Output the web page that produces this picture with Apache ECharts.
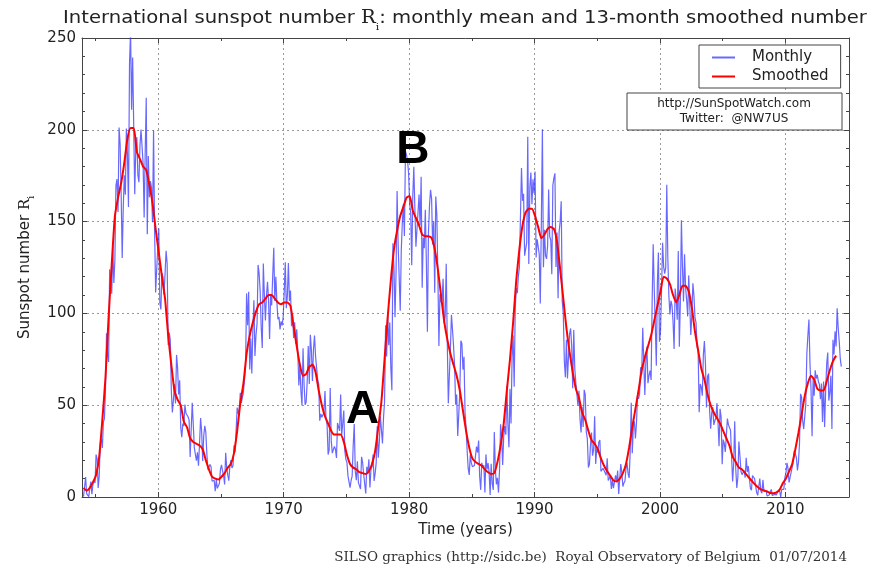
<!DOCTYPE html>
<html><head><meta charset="utf-8">
<script src="https://cdn.jsdelivr.net/npm/echarts@6/dist/echarts.min.js"></script>
<style>html,body{margin:0;padding:0;background:#fff}#c{width:885px;height:569px}</style>
</head><body><div id="c"></div>
<script>
// ---- data ----
const monthlyStart = 1954; // first month: Jan 1954
const monthly = [
0.2,0.5,10.9,1.8,0.8,0.2,4.8,8.4,1.5,7.0,9.2,7.6,
23.1,20.8,4.9,11.3,28.9,31.7,26.7,40.7,42.7,58.5,89.2,76.9,
73.6,124.0,118.4,110.7,136.6,116.6,129.1,169.6,173.2,155.3,201.3,192.1,
165.0,130.2,157.4,175.2,164.6,200.7,187.2,158.0,235.8,253.8,210.9,239.4,
202.5,164.9,190.7,196.0,175.3,171.5,191.4,200.2,201.2,181.5,152.3,187.6,
217.4,143.1,185.7,163.3,172.0,168.7,149.6,199.6,145.2,111.4,124.0,125.0,
146.3,106.0,102.2,122.0,119.6,110.2,121.7,134.1,127.2,82.8,89.6,85.6,
57.9,46.1,53.0,61.4,51.0,77.4,70.2,55.8,63.6,37.7,32.6,40.0,
38.7,50.3,45.6,46.4,43.7,42.0,21.8,21.8,51.3,39.5,26.9,23.2,
19.8,24.4,17.1,29.3,43.0,35.9,19.6,33.2,38.8,35.3,23.4,14.9,
15.3,17.7,16.5,8.6,9.5,9.1,3.1,9.3,4.7,6.1,7.4,15.1,
17.5,14.2,11.7,6.8,24.1,15.9,11.9,8.9,16.8,20.1,15.8,17.0,
28.2,24.4,25.3,48.7,45.3,47.7,56.7,51.2,50.2,57.2,57.2,70.4,
110.9,93.6,111.8,69.5,86.5,67.3,91.5,107.2,76.8,88.2,94.3,126.4,
121.8,111.9,92.2,81.2,127.2,110.3,96.1,109.3,117.2,107.7,86.0,109.8,
104.4,120.5,135.8,106.8,120.0,106.0,96.8,98.0,91.3,95.7,93.5,97.9,
111.5,127.8,102.9,109.5,127.5,106.8,112.5,93.0,99.5,86.6,95.2,83.5,
91.3,79.0,60.7,71.8,57.5,49.8,81.0,61.4,50.2,51.7,63.2,82.2,
61.5,88.4,80.1,63.2,80.5,88.0,76.5,76.8,64.0,61.3,41.6,45.3,
43.4,42.9,46.0,57.7,42.4,39.5,23.1,25.6,59.3,30.7,23.9,23.3,
27.6,26.0,21.3,40.3,39.5,36.0,55.8,33.6,40.2,47.1,25.0,20.5,
18.9,11.5,11.5,5.1,9.0,11.4,28.2,39.7,13.9,9.1,19.4,7.8,
8.1,4.3,21.9,18.8,12.4,12.2,1.9,16.4,13.5,20.6,5.2,15.3,
16.4,23.1,8.7,12.9,18.6,38.5,21.4,30.1,44.0,43.8,29.1,43.2,
51.9,93.6,76.5,99.7,82.7,95.1,70.4,58.1,138.2,125.1,97.9,122.7,
166.6,137.5,138.0,101.5,134.4,149.5,159.4,142.2,188.4,186.2,183.3,176.3,
159.6,155.0,126.2,164.1,179.9,157.3,136.3,135.4,155.0,164.7,147.9,174.4,
114.0,141.3,135.5,156.4,127.5,90.0,143.8,158.7,167.3,162.4,137.5,150.1,
111.2,163.6,153.8,122.0,82.2,110.4,106.1,107.6,118.8,94.7,98.1,127.0,
84.3,51.0,66.5,80.7,99.2,91.1,82.2,71.8,50.3,55.8,33.3,33.4,
57.0,85.1,83.5,69.4,76.4,46.1,37.4,25.5,15.7,12.0,22.8,18.7,
16.5,15.9,17.2,16.2,27.5,24.2,30.7,11.1,3.9,18.6,16.2,17.3,
2.5,23.2,15.1,18.5,13.7,1.1,18.1,7.4,3.8,35.4,15.2,6.8,
10.4,2.4,14.7,39.6,33.0,17.4,33.0,38.7,33.9,60.6,39.9,27.1,
59.0,40.0,76.2,88.0,60.1,101.8,113.8,111.0,120.1,125.1,125.1,179.2,
161.3,165.1,131.4,130.6,138.5,196.2,126.9,168.9,176.7,159.4,173.0,165.5,
177.3,130.5,140.3,140.3,132.2,105.4,149.4,200.3,125.2,145.5,131.4,129.7,
136.9,167.5,141.9,140.0,121.3,169.7,173.7,176.3,125.3,144.1,108.2,144.4,
150.0,161.1,106.7,99.8,73.8,65.2,85.7,64.5,63.9,88.7,91.8,82.6,
59.3,91.0,69.8,62.2,61.3,49.8,57.9,42.4,35.1,49.2,38.1,58.4,
55.8,35.5,31.7,16.1,17.8,28.0,35.1,22.5,25.7,44.0,18.0,26.2,
24.2,29.9,31.1,14.0,14.5,15.6,14.5,14.3,11.8,21.1,9.0,10.0,
11.5,4.4,9.2,4.8,5.5,11.8,8.2,14.4,1.6,0.9,17.9,13.3,
5.7,7.6,8.7,15.5,18.5,12.7,10.4,24.4,51.3,23.8,39.0,41.2,
31.9,40.3,54.8,53.4,56.3,70.7,66.6,92.2,92.9,55.5,74.0,81.9,
62.0,66.3,68.8,63.7,106.4,137.7,113.5,93.7,71.5,116.7,133.2,84.6,
90.1,112.9,138.5,125.5,121.6,124.9,170.1,130.5,109.7,99.4,106.8,104.4,
95.6,80.6,113.5,107.7,96.6,134.0,81.8,106.4,150.7,125.5,106.5,132.2,
114.1,107.4,98.4,120.7,120.8,88.3,99.6,116.4,109.6,97.5,95.0,81.6,
79.5,46.2,61.5,60.0,55.2,77.4,85.0,72.7,48.8,65.6,67.2,46.7,
37.2,46.0,48.9,39.3,41.5,43.2,51.1,40.9,27.7,48.0,43.5,17.9,
31.3,29.2,24.5,24.2,42.7,39.3,40.0,36.4,22.1,8.5,18.0,41.2,
15.3,4.9,10.6,30.2,22.3,13.9,12.2,12.9,14.4,10.5,21.4,13.6,
16.9,10.6,4.8,3.7,11.7,12.0,10.0,6.2,2.4,0.9,1.7,10.1,
3.3,2.1,9.3,2.9,3.2,3.4,0.5,0.5,1.1,2.9,4.1,0.8,
1.5,1.4,0.7,1.2,2.9,2.9,3.2,0.0,4.2,4.6,4.2,10.6,
13.1,18.6,15.4,7.9,8.8,13.5,16.1,19.6,25.2,23.5,21.6,14.5,
19.0,29.4,56.2,54.4,41.6,37.0,43.8,50.6,78.0,88.0,96.7,73.0,
58.3,33.1,64.2,55.2,69.0,64.5,66.5,63.0,61.4,53.3,61.8,40.8,
62.9,38.1,57.9,72.4,78.7,52.5,57.0,66.0,37.0,85.6,77.6,90.3,
82.0,102.8,92.2,84.7,75.2,71.0
];
const smoothedStart = 1954;   // first value: Jan 1954
const smoothedStepMonths = 3; // one value per quarter
const smoothed = [
5,3.5,5,8, 12,22,42,65, 98,127,153,163, 171,182,195,201,
201,188,184,180, 178,170,160,146, 133,120,108,88, 72,58,53,50,
41,38,32,30, 29,28,26,20, 15,11,10,9.5, 11,13,16,18,
24,36,51,62, 78,88,95,101, 105,106,108,110, 110,108,106,105,
106,106,104,93, 82,72,66,67, 71,72,68,58, 50,44,40,36,
34,34,34,30, 23,18,16,15, 13.5,13,12.5,14, 18,25,38,52,
75,98,118,135, 145,153,158,163, 164,156,152,148, 143,142,142,141,
135,124,110,96, 86,78,72,66, 58,47,36,27, 21,19,18,17,
15,13.5,12.5,13, 19,28,40,58, 75,95,118,135, 148,155,157,157,
153,147,141,143, 146,147,146,139, 124,108,92,79, 68,59,54,46,
42,36,31,29, 26,21,17,14, 11.5,9,8.5,10, 13,18,27,38,
48,58,69,76, 82,88,96,104, 112,120,119,116, 110,106,110,115,
115,112,103,90, 80,70,64,56, 50,46,43,40, 36,32,28,22,
19,16,15,13, 11,9,7,5.5, 4.2,3.6,3,2.2, 2,2.5,4,7.5,
10,14,18,26, 35,45,55,62, 66,64,59,58, 58,63,69,74,
77
];
const seriesNames = ['Monthly', 'Smoothed'];
const xMin = 1953.92, xMax = 2015.07;
const yearTicks = [1960, 1970, 1980, 1990, 2000, 2010];
const yearMinorTicks = [1955, 1965, 1975, 1985, 1995, 2005];
const yMin = 0, yMax = 250, yStep = 50;
const titleParts = ['International sunspot number ', 'R', 'i', ': monthly mean and 13-month smoothed number'];
const infoLines = ['http://SunSpotWatch.com', 'Twitter:  @NW7US'];
const footer = 'SILSO graphics (http://sidc.be)  Royal Observatory of Belgium  01/07/2014';
const marks = [{t: 'A', x: 1976.3, y: 47}, {t: 'B', x: 1980.3, y: 189}];

// ---- chart ----
const FONT = 'DejaVu Sans';
const monthlyPts = monthly.map((v, i) => [monthlyStart + (i + 0.5) / 12, v]);
const smoothedPts = smoothed.map((v, i) => [smoothedStart + (i * smoothedStepMonths + 0.5) / 12, v]);
const frame = {color: '#444', width: 1};
const gridDots = {type: [2, 3], color: '#9a9a9a', width: 1};

function xAx(pos, ticks, len, major) {
  const main = major && pos === 'bottom';
  return {
    type: 'value', position: pos, min: xMin, max: xMax,
    axisLine: {show: major, onZero: false, lineStyle: frame},
    axisTick: {show: true, inside: true, length: len, customValues: ticks, lineStyle: frame},
    axisLabel: main ? {show: true, customValues: ticks, fontSize: 15, color: '#222', fontFamily: FONT, margin: 6,
                       formatter: v => String(v)} : {show: false},
    splitLine: main ? {show: true, lineStyle: gridDots} : {show: false},
    name: main ? 'Time (years)' : '',
    nameLocation: 'middle', nameGap: 19,
    nameTextStyle: {fontSize: 15, color: '#222', fontFamily: FONT}
  };
}
function yAx(pos) {
  const left = pos === 'left';
  return {
    type: 'value', position: pos, min: yMin, max: yMax, interval: yStep,
    axisLine: {show: true, lineStyle: frame},
    axisTick: {show: true, inside: true, length: 5, lineStyle: frame},
    minorTick: {show: true, splitNumber: 5, length: 3, lineStyle: frame},
    axisLabel: left ? {fontSize: 15, color: '#222', fontFamily: FONT, margin: 6} : {show: false},
    splitLine: left ? {show: true, lineStyle: gridDots} : {show: false},
    name: left ? '{a|Sunspot number }{r|R}{s|i}' : '',
    nameLocation: 'middle', nameRotate: 90, nameGap: 48,
    nameTextStyle: {fontSize: 15, color: '#222', fontFamily: FONT,
      rich: {a: {fontSize: 15, fontFamily: FONT, color: '#222'},
             r: {fontSize: 15, fontFamily: 'DejaVu Serif', color: '#222'},
             s: {fontSize: 9, fontFamily: 'DejaVu Serif', color: '#222', verticalAlign: 'bottom', padding: [0, 0, -4, 0]}}}
  };
}

const chart = echarts.init(document.getElementById('c'), null, {renderer: 'canvas'});
chart.setOption({
  animation: false,
  backgroundColor: '#fff',
  grid: {left: 82, right: 36, top: 38, bottom: 72, containLabel: false},
  legend: {
    data: seriesNames, orient: 'vertical', left: 699, top: 45,
    icon: 'rect', itemWidth: 23, itemHeight: 2, itemGap: 4,
    padding: [5, 12, 4, 13],
    borderColor: '#444', borderWidth: 1, backgroundColor: '#fff',
    textStyle: {fontSize: 15, color: '#222', fontFamily: FONT, padding: [0, 0, 0, 12]},
    z: 20
  },
  xAxis: [xAx('bottom', yearTicks, 5, true), xAx('bottom', yearMinorTicks, 3, false),
          xAx('top', yearTicks, 5, true), xAx('top', yearMinorTicks, 3, false)],
  yAxis: [yAx('left'), yAx('right')],
  series: [
    {name: seriesNames[0], type: 'line', data: monthlyPts, xAxisIndex: 0, yAxisIndex: 0,
     showSymbol: false, symbol: 'none', color: 'rgba(40,40,255,0.7)',
     lineStyle: {color: 'rgba(40,40,255,0.7)', width: 1.2}, z: 2},
    {name: seriesNames[1], type: 'line', data: smoothedPts, xAxisIndex: 0, yAxisIndex: 0,
     showSymbol: false, symbol: 'none', color: '#ff0000', smooth: 0.2,
     lineStyle: {color: '#ff0000', width: 2}, z: 3}
  ]
});

function px(x, y) { return chart.convertToPixel({xAxisIndex: 0, yAxisIndex: 0}, [x, y]); }
const g = [
  {type: 'text', z: 101, x: 63, y: 18, scaleX: 1.09,
   style: {text: '{a|' + titleParts[0] + '}{r|' + titleParts[1] + '}{s|' + titleParts[2] + '}{a|' + titleParts[3] + '}',
     verticalAlign: 'middle', align: 'left',
     rich: {
       a: {fontSize: 18, fontFamily: FONT, fill: '#222'},
       r: {fontSize: 18, fontFamily: 'DejaVu Serif', fill: '#222'},
       s: {fontSize: 10, fontFamily: 'DejaVu Serif', fill: '#222', verticalAlign: 'bottom', padding: [0, 0, -5, 0]}
     }}},
  {type: 'rect', z: 100, shape: {x: 627, y: 93, width: 215, height: 37},
   style: {fill: '#fff', stroke: '#444', lineWidth: 1}},
  {type: 'text', z: 101, x: 734, y: 104, style: {text: infoLines[0], fontSize: 12, fontFamily: FONT, fill: '#222', align: 'center', verticalAlign: 'middle'}},
  {type: 'text', z: 101, x: 734, y: 119, style: {text: infoLines[1], fontSize: 12, fontFamily: FONT, fill: '#222', align: 'center', verticalAlign: 'middle'}},
  {type: 'text', z: 101, x: 847, y: 557, style: {text: footer, fontSize: 13.5, fontFamily: 'DejaVu Serif', fill: '#333', align: 'right', verticalAlign: 'middle'}}
];
marks.forEach(m => {
  const p = px(m.x, m.y);
  g.push({type: 'text', z: 101, x: p[0], y: p[1],
    style: {text: m.t, fontSize: 46, fontWeight: 'bold', fontFamily: 'Liberation Sans', fill: '#000', align: 'center', verticalAlign: 'middle'}});
});
chart.setOption({graphic: {elements: g}});
</script>
</body></html>
